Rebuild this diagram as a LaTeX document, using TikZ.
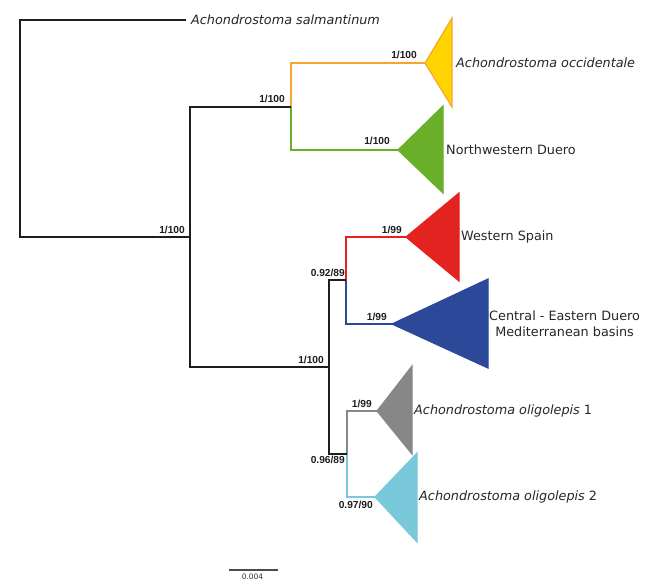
\documentclass[tikz,border=0pt]{standalone}
\usepackage{fontspec}
\setmainfont{DejaVu Sans}
\newfontfamily\supfont{Liberation Sans}
\definecolor{corange}{HTML}{F5A631}
\definecolor{cyellow}{HTML}{FFD400}
\definecolor{cgreen}{HTML}{6AAF2A}
\definecolor{cred}{HTML}{E2231F}
\definecolor{cblue}{HTML}{2B4899}
\definecolor{cgrey}{HTML}{878787}
\definecolor{clblue}{HTML}{79C9DA}
\definecolor{cblack}{HTML}{1E1E1E}
\begin{document}
\begin{tikzpicture}[x=1pt,y=-1pt,
  blk/.style={draw=cblack,line width=1.8pt,line join=miter},
  col/.style={line width=1.4pt,line join=miter},
  tri/.style={line width=1.2pt,line join=miter},
  sup/.style={font=\supfont\bfseries\fontsize{10.2}{12}\selectfont,inner sep=0pt,anchor=base east,text=cblack},
  taxon/.style={font=\fontsize{12.8}{16}\selectfont,inner sep=0pt,anchor=west,text=black!85},
  itaxon/.style={taxon,font=\itshape\fontsize{12.8}{16}\selectfont}]
\useasboundingbox (0,0) rectangle (653,582);
% tree coordinates
\coordinate (sal) at (186,20);
\coordinate (rb) at (20,237);
\coordinate (n1) at (190,237);
\coordinate (n1b) at (190,367);
\coordinate (n2) at (291,107);
\coordinate (n3) at (329,367);
\coordinate (n3b) at (329,454);
\coordinate (n4) at (346,280);
\coordinate (n5) at (347,454);
\coordinate (occ) at (425,63);
\coordinate (nwd) at (398,150);
\coordinate (ws) at (406,237);
\coordinate (ced) at (392,324);
\coordinate (ol1) at (377,411);
\coordinate (ol2) at (375,497);
% triangles
\filldraw[tri,draw=corange,fill=cyellow] (occ) -- (452,18) -- (452,107) -- cycle;
\filldraw[tri,draw=cgreen,fill=cgreen] (nwd) -- (443,106) -- (443,193) -- cycle;
\filldraw[tri,draw=cred,fill=cred] (ws) -- (459,193) -- (459,281) -- cycle;
\filldraw[tri,draw=cblue,fill=cblue] (ced) -- (488,279) -- (488,368) -- cycle;
\filldraw[tri,draw=cgrey,fill=cgrey] (ol1) -- (412,366) -- (412,454) -- cycle;
\filldraw[tri,draw=clblue,fill=clblue] (ol2) -- (417,453) -- (417,542) -- cycle;
% coloured branches
\draw[col,draw=corange] (n2) |- (occ);
\draw[col,draw=cgreen] (n2) |- (nwd);
\draw[col,draw=cred] (n4) |- (ws);
\draw[col,draw=cblue] (n4) |- (ced);
\draw[col,draw=cgrey] (n5) |- (ol1);
\draw[col,draw=clblue] (n5) |- (ol2);
% black branches
\draw[blk] (sal) -| (rb) -- (n1);
\draw[blk] (n2) -| (n1b) -- (n3);
\draw[blk] (n4) -| (n3b) -- (n5);
% taxa
\node[itaxon] (tsal) at (191,20) {Achondrostoma salmantinum};
\node[itaxon] (tocc) at (456,63) {Achondrostoma occidentale};
\node[taxon] (tnwd) at (446,150) {Northwestern Duero};
\node[taxon] (tws) at (461,237) {Western Spain};
\node[taxon,align=center] (tced) at (489,324) {Central - Eastern Duero\\Mediterranean basins};
\node[itaxon] (tol1) at (414,411) {Achondrostoma oligolepis \textup{1}};
\node[itaxon] (tol2) at (419,497) {Achondrostoma oligolepis \textup{2}};
% supports
\node[sup] (s0) at (185,233) {1/100};
\node[sup] (s1) at (285,102) {1/100};
\node[sup] (s2) at (417,58) {1/100};
\node[sup] (s3) at (390,144) {1/100};
\node[sup] (s4) at (402,233) {1/99};
\node[sup] (s5) at (345,276) {0.92/89};
\node[sup] (s6) at (387,320) {1/99};
\node[sup] (s7) at (324,363) {1/100};
\node[sup] (s8) at (372,407) {1/99};
\node[sup] (s9) at (345,463) {0.96/89};
\node[sup] (s10) at (373,508) {0.97/90};
% scale bar
\coordinate (sbl) at (229,570);
\coordinate (sbr) at (278,570);
\draw[line width=1.2pt,draw=black!70] (sbl) -- (sbr);
\node[font=\fontsize{7.5}{9}\selectfont,inner sep=0pt,anchor=north,text=black!80] (sbt) at (252.5,574) {0.004};
\end{tikzpicture}
\end{document}
